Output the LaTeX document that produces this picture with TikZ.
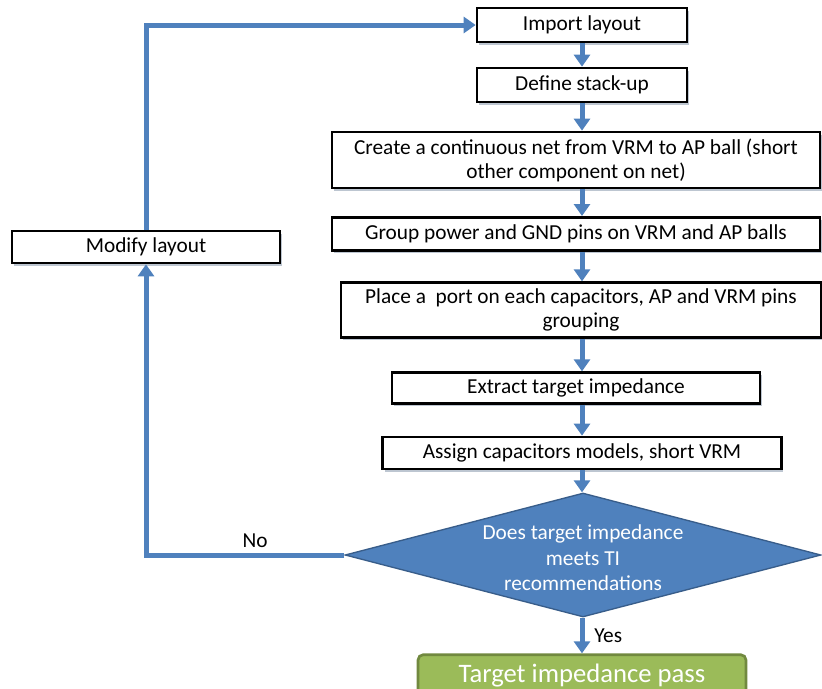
\documentclass[tikz,border=0pt]{standalone}
\usepackage{fontspec}
\setmainfont{Carlito}
\usetikzlibrary{arrows.meta,shapes.geometric,shadows,positioning}
\definecolor{flow-blue}{HTML}{4F81BD}
\definecolor{flow-blue-dark}{HTML}{385D8A}
\definecolor{flow-green}{HTML}{9BBB59}
\definecolor{flow-green-dark}{HTML}{71893F}
\tikzset{
  stepbox/.style={draw=black, line width=2pt, fill=white, align=center, inner sep=2pt,
    font=\fontsize{16}{18}\selectfont,
    drop shadow={shadow xshift=1.5pt, shadow yshift=-2pt, fill=flow-blue!40!gray, opacity=0.45}},
  checkbox/.style={diamond, fill=flow-blue, draw=flow-blue-dark, line width=1pt, inner sep=0pt,
    minimum width=357pt, minimum height=93pt},
  passbox/.style={draw=flow-green-dark, line width=2pt, fill=flow-green, rounded corners=4pt,
    text=white, font=\fontsize{20}{22}\selectfont},
  flow/.style={flow-blue, line width=3.75pt, -{Triangle[width=12pt,length=9pt]}},
  flowlabel/.style={text=black, font=\fontsize{16}{18}\selectfont}
}
\begin{document}
\begin{tikzpicture}[x=0.75pt, y=-0.75pt]

    \clip (0,0) rectangle (822,689);

    % main column
    \node[stepbox, minimum width=157.5pt, minimum height=25.5pt] (import) at (582, 25) {Import layout};
    \node[stepbox, minimum width=157.5pt, minimum height=25.5pt] (stack) at (582, 85) {Define stack-up};
    \node[stepbox, minimum width=366pt, minimum height=42pt] (net) at (576, 160)
        {Create a continuous net from VRM to AP ball (short\\other component on net)};
    \node[stepbox, minimum width=366pt, minimum height=25pt] (pins) at (576, 234)
        {Group power and GND pins on VRM and AP balls};
    \node[stepbox, minimum width=360pt, minimum height=41pt] (ports) at (581, 310)
        {Place a\ \ port on each capacitors, AP and VRM pins\\grouping};
    \node[stepbox, minimum width=276pt, minimum height=23pt] (extract) at (576, 388) {Extract target impedance};
    \node[stepbox, minimum width=299pt, minimum height=24pt] (assign) at (582, 453)
        {Assign capacitors models, short VRM};

    % decision
    \node[checkbox, label={[text=white, align=center, font=\fontsize{16}{19}\selectfont, yshift=-2pt]center:Does target impedance\\meets TI\\recommendations}] (check) at (583, 555) {};

    \node[passbox, minimum width=246pt, minimum height=32pt] (pass) at (582, 676) {Target impedance pass};

    % loop back
    \node[stepbox, minimum width=201pt, minimum height=24pt] (modify) at (146, 247) {Modify layout};

    \draw[flow] (import) -- (stack);
    \draw[flow] (stack.south) -- (stack.south |- net.north);
    \draw[flow] (net.south -| stack.south) -- (stack.south |- pins.north);
    \draw[flow] (pins.south -| stack.south) -- (stack.south |- ports.north);
    \draw[flow] (ports.south -| stack.south) -- (stack.south |- extract.north);
    \draw[flow] (extract.south -| stack.south) -- (stack.south |- assign.north);
    \draw[flow] (assign.south -| stack.south) -- (check.north -| stack.south);
    \draw[flow] (check.south -| stack.south) -- node[flowlabel, right=4pt] {Yes} (stack.south |- pass.north);

    \draw[flow] (check.west) -- node[flowlabel, above, pos=0.45] {No} (check.west -| modify.south) -- (modify.south);
    \draw[flow] (modify.north) |- (import.west);
\end{tikzpicture}
\end{document}
